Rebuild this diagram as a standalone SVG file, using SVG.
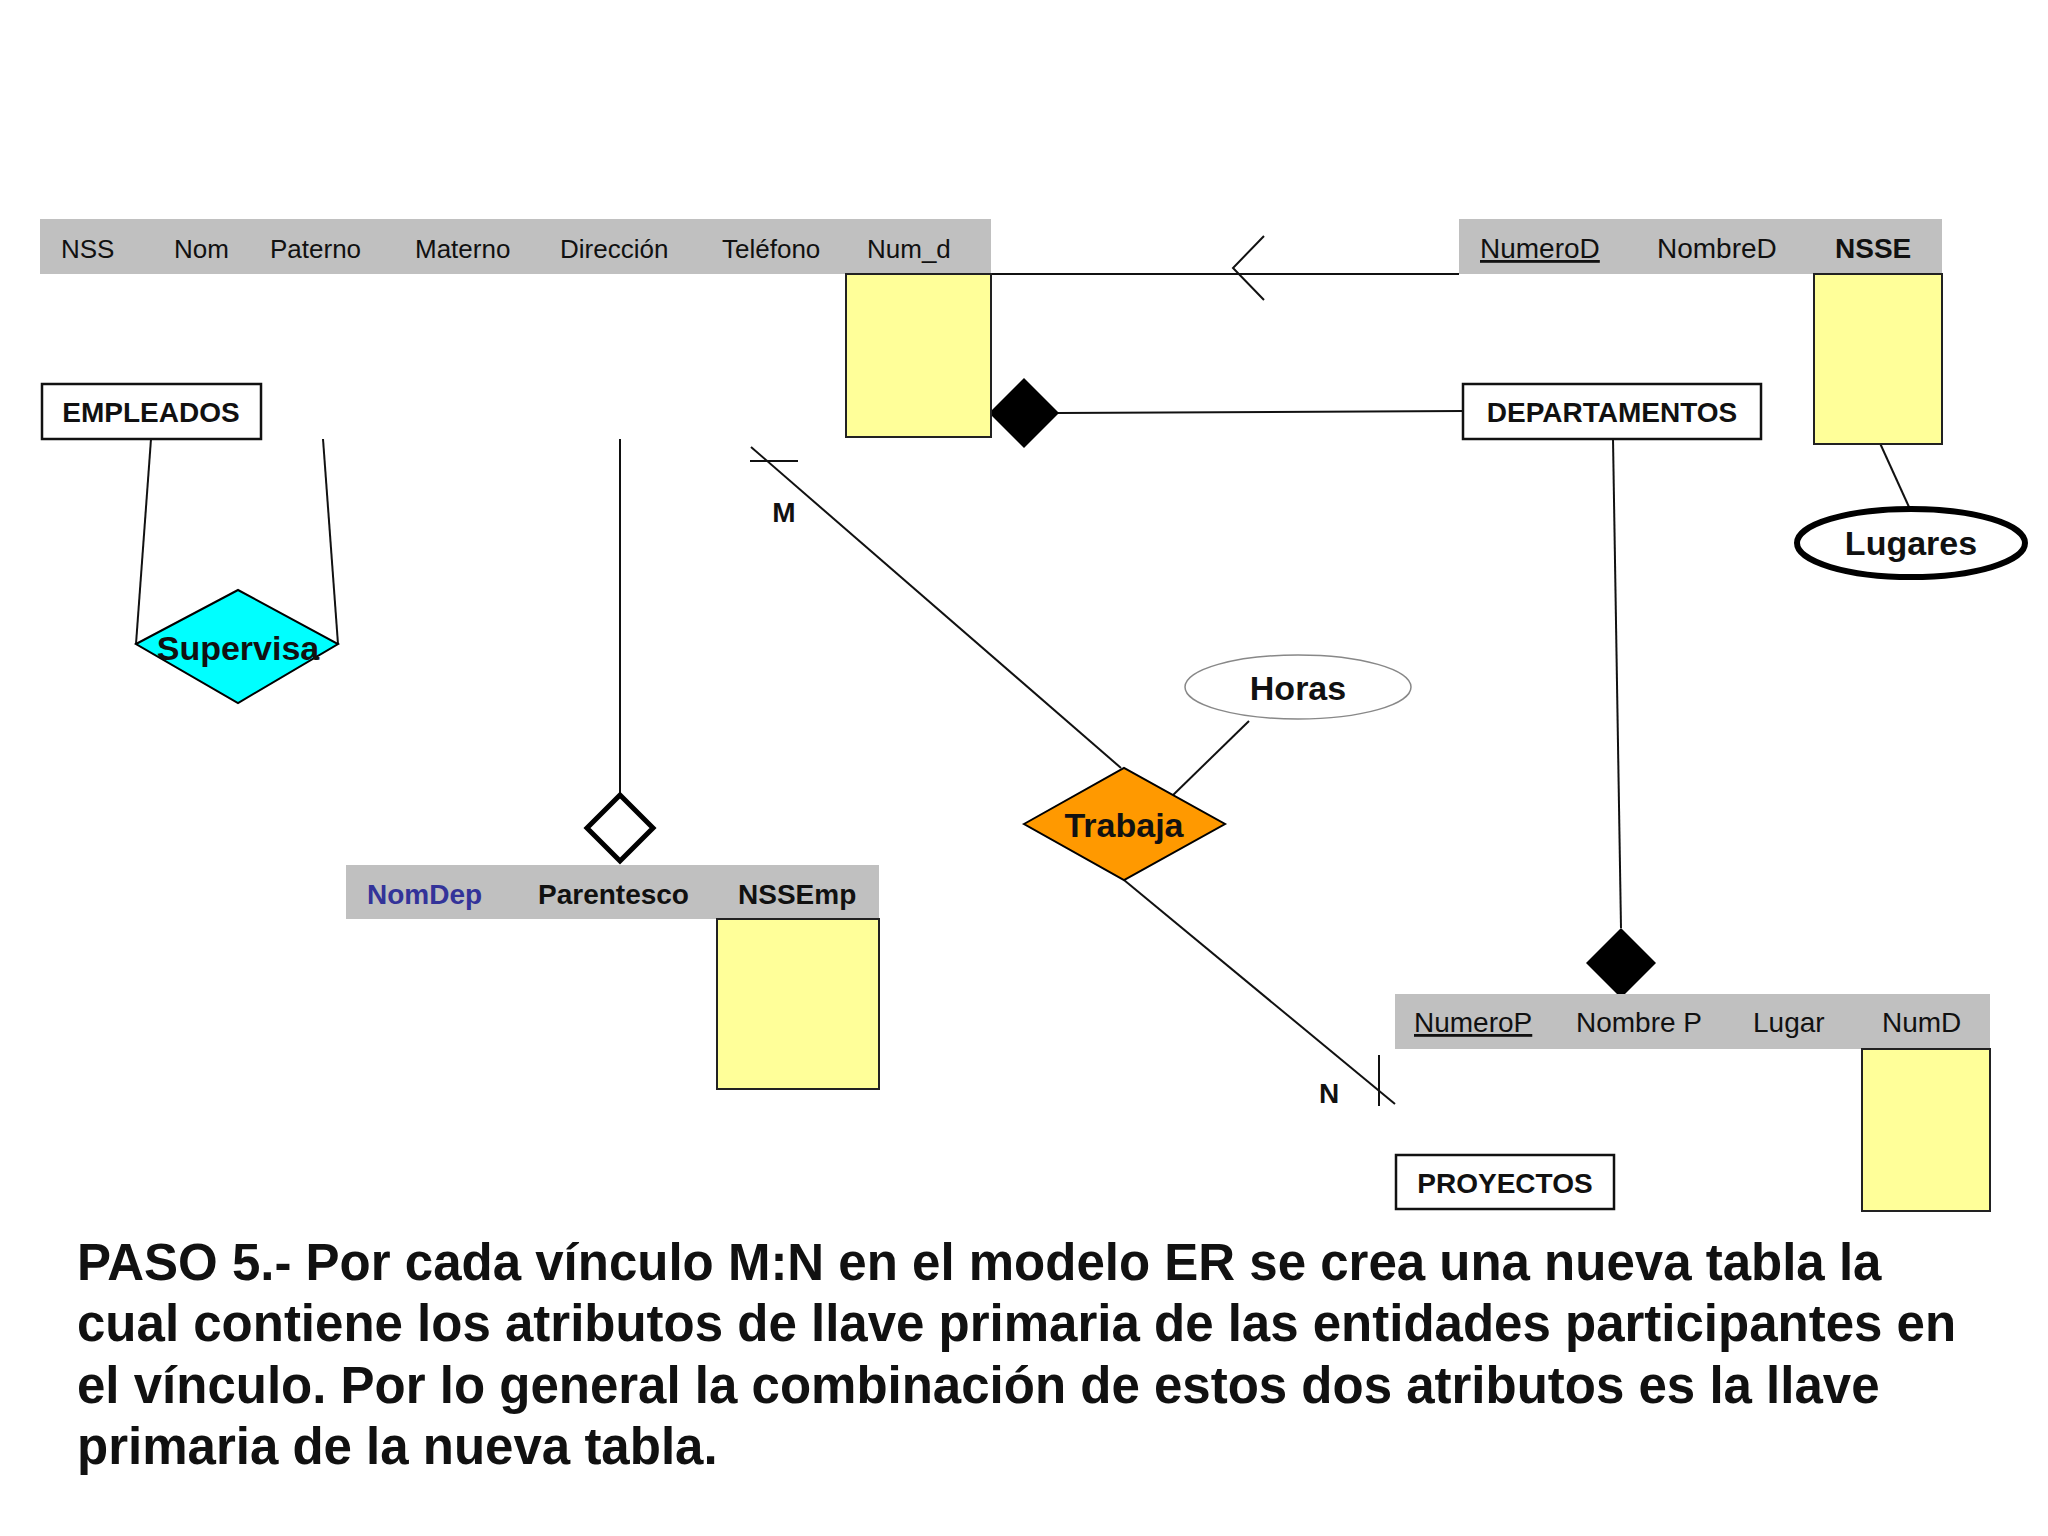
<svg xmlns="http://www.w3.org/2000/svg" width="2048" height="1536" viewBox="0 0 2048 1536">
<style>
text{font-family:"Liberation Sans",Arial,sans-serif;}
.h{font-size:26px;fill:#111}
.h2{font-size:28px;fill:#111}
.b{font-size:28px;font-weight:bold;fill:#111}
.d{font-size:34px;font-weight:bold;fill:#111}
.bar{fill:#c0c0c0}
.yel{fill:#ffff99;stroke:#222;stroke-width:2}
.box{fill:#fff;stroke:#111;stroke-width:2.5}
.ln{stroke:#111;stroke-width:2;fill:none}
.p{font-size:51px;font-weight:bold;fill:#111}
</style>
<rect width="2048" height="1536" fill="#fff"/>
<g id="connectors">
<line class="ln" x1="991" y1="274" x2="1459" y2="274"/>
<path class="ln" stroke-width="4" d="M1264,236 L1233,268 L1264,300"/>
<line class="ln" x1="1058" y1="413" x2="1463" y2="411"/>
<line class="ln" x1="1879" y1="441" x2="1909" y2="507"/>
<line class="ln" x1="151" y1="439" x2="136" y2="644"/>
<line class="ln" x1="323" y1="439" x2="338" y2="644"/>
<line class="ln" x1="620" y1="439" x2="620" y2="795"/>
<line class="ln" x1="751" y1="447" x2="1121" y2="768"/>
<line class="ln" x1="750" y1="461" x2="798" y2="461"/>
<line class="ln" x1="1124" y1="880" x2="1395" y2="1104"/>
<line class="ln" x1="1379" y1="1055" x2="1379" y2="1106"/>
<line class="ln" x1="1249" y1="721" x2="1170" y2="798"/>
<line class="ln" x1="1613" y1="439" x2="1621" y2="928"/>
<polygon points="1024,378 1059,413 1024,448 989,413" fill="#000"/>
<polygon points="1621,928 1656,963 1621,998 1586,963" fill="#000"/>
<polygon points="620,795 653,828 620,861 587,828" fill="#fff" stroke="#000" stroke-width="5"/>
</g>
<g id="empleados-table">
<rect class="bar" x="40" y="219" width="951" height="55"/>
<rect class="yel" x="846" y="274" width="145" height="163"/>
<text class="h" x="61" y="258">NSS</text>
<text class="h" x="174" y="258">Nom</text>
<text class="h" x="270" y="258">Paterno</text>
<text class="h" x="415" y="258">Materno</text>
<text class="h" x="560" y="258">Dirección</text>
<text class="h" x="722" y="258">Teléfono</text>
<text class="h" x="867" y="258">Num_d</text>
</g>
<g id="empleados"><rect class="box" x="42" y="384" width="219" height="55"/><text class="b" x="151" y="422" text-anchor="middle">EMPLEADOS</text></g>
<g id="departamentos-table">
<rect class="bar" x="1459" y="219" width="483" height="55"/>
<rect class="yel" x="1814" y="274" width="128" height="170"/>
<text class="h2" x="1480" y="258" text-decoration="underline">NumeroD</text>
<text class="h2" x="1657" y="258">NombreD</text>
<text class="b" x="1835" y="258">NSSE</text>
</g>
<g id="departamentos"><rect class="box" x="1463" y="384" width="298" height="55"/><text class="b" x="1612" y="422" text-anchor="middle">DEPARTAMENTOS</text></g>
<g id="lugares"><ellipse cx="1911" cy="543" rx="114" ry="34" fill="#fff" stroke="#000" stroke-width="6"/><text class="d" x="1911" y="555" text-anchor="middle">Lugares</text></g>
<g id="supervisa"><polygon points="136,644 238,590 338,644 238,703" fill="#00ffff" stroke="#000" stroke-width="2"/><text class="d" x="238" y="660" text-anchor="middle">Supervisa</text></g>
<g id="dependientes-table">
<rect class="bar" x="346" y="865" width="533" height="54"/>
<rect class="yel" x="717" y="919" width="162" height="170"/>
<text class="b" x="367" y="904" style="fill:#333399">NomDep</text>
<text class="b" x="538" y="904">Parentesco</text>
<text class="b" x="738" y="904">NSSEmp</text>
</g>
<g id="trabaja"><polygon points="1024,824 1124,768 1225,824 1124,880" fill="#ff9900" stroke="#000" stroke-width="2"/><text class="d" x="1124" y="837" text-anchor="middle">Trabaja</text></g>
<g id="horas"><ellipse cx="1298" cy="687" rx="113" ry="32" fill="#fff" stroke="#888" stroke-width="1.5"/><text class="d" x="1298" y="700" text-anchor="middle">Horas</text></g>
<g id="labels"><text class="b" x="784" y="522" text-anchor="middle" font-size="31">M</text><text class="b" x="1329" y="1103" text-anchor="middle" font-size="31">N</text></g>
<g id="proyectos-table">
<rect class="bar" x="1395" y="994" width="595" height="55"/>
<rect class="yel" x="1862" y="1049" width="128" height="162"/>
<text class="h2" x="1414" y="1032" text-decoration="underline">NumeroP</text>
<text class="h2" x="1576" y="1032">Nombre P</text>
<text class="h2" x="1753" y="1032">Lugar</text>
<text class="h2" x="1882" y="1032">NumD</text>
</g>
<g id="proyectos"><rect class="box" x="1396" y="1155" width="218" height="54"/><text class="b" x="1505" y="1193" text-anchor="middle">PROYECTOS</text></g>
<g id="caption">
<text class="p" x="77" y="1280">PASO 5.- Por cada vínculo M:N en el modelo ER se crea una nueva tabla la</text>
<text class="p" x="77" y="1341">cual contiene los atributos de llave primaria de las entidades participantes en</text>
<text class="p" x="77" y="1403">el vínculo. Por lo general la combinación de estos dos atributos es la llave</text>
<text class="p" x="77" y="1464">primaria de la nueva tabla.</text>
</g>
</svg>
